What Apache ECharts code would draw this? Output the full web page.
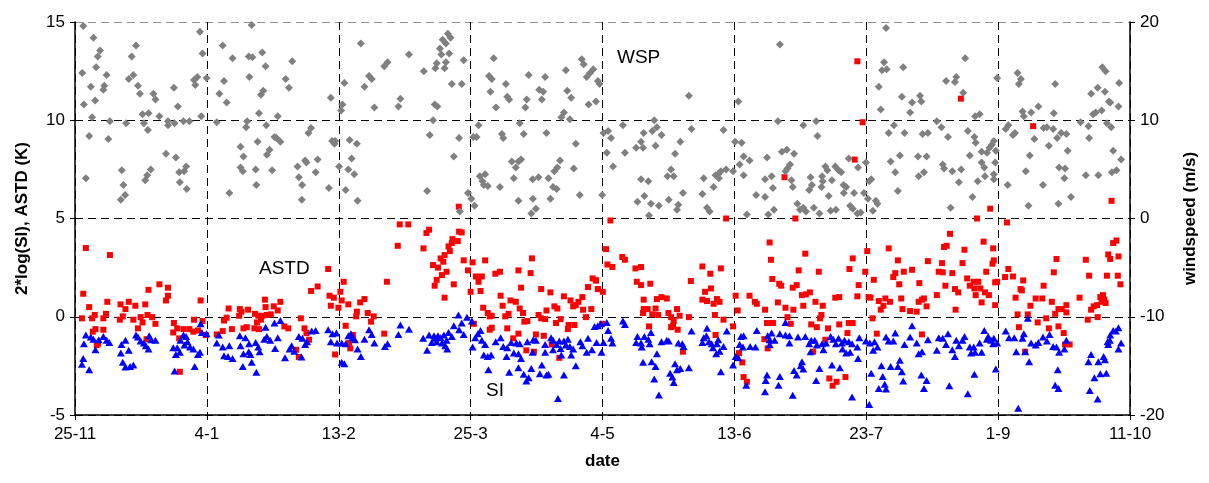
<!DOCTYPE html>
<html><head><meta charset="utf-8">
<script src="https://cdn.jsdelivr.net/npm/echarts@6/dist/echarts.min.js"></script>
<style>html,body{margin:0;padding:0;background:#fff}#c{width:1209px;height:483px}</style>
</head><body><div id="c"></div>
<script>
// x values are days since 25-11
const tickLabels = ["25-11","4-1","13-2","25-3","4-5","13-6","23-7","1-9","11-10"];
const leftTicks = [-5, 0, 5, 10, 15];
const rightTicks = [-20, -10, 0, 10, 20];

// windspeed (m/s), right axis
const wspData = [
[2.5,19.6],[5.6,18.4],[7.6,17.1],[6.9,16.5],[6.4,15.4],[2.2,14.8],[9.6,14.6],[4.8,13.4],[8.9,13.5],[8.6,13.1],[6.1,12.0],[2.7,11.6],[5.2,10.3],[4.3,8.4],[3.3,4.1],[10.6,9.9],[10.1,8.1],[14.2,4.9],[14.7,3.4],[15.2,2.4],[13.9,1.9],[15.5,9.7],[18.5,17.6],[17.2,16.5],[17.7,14.6],[16.3,14.2],[19.1,13.5],[19.7,12.7],[20.5,10.6],[22.3,10.7],[20.9,9.7],[22.1,9.0],[23.8,12.7],[24.4,12.1],[25.6,10.4],[23.0,5.0],[21.9,4.4],[21.3,3.9],[27.6,6.6],[30.6,6.2],[28.2,9.9],[28.2,9.5],[30.2,9.7],[32.9,9.9],[34.7,9.9],[30.0,13.3],[31.2,11.4],[33.7,5.3],[33.1,4.8],[31.6,4.7],[31.8,3.7],[33.9,3.0],[37.9,19.0],[38.7,16.8],[39.9,14.3],[37.1,14.4],[36.1,14.1],[36.5,13.6],[38.3,10.4],[43.0,9.8],[44.8,17.6],[47.8,16.3],[45.2,14.0],[43.8,12.7],[46.0,11.8],[50.2,7.3],[51.1,6.3],[50.2,5.2],[50.9,4.8],[46.8,2.6],[51.9,9.3],[52.7,16.5],[52.9,14.4],
[53.6,19.7],[56.8,16.9],[53.8,16.4],[57.8,15.5],[65.9,16.0],[63.9,14.2],[64.9,13.3],[57.1,13.0],[56.4,12.6],[55.8,10.7],[61.5,10.4],[52.2,9.9],[58.0,9.5],[71.6,9.2],[70.8,8.7],[55.4,7.8],[60.5,8.3],[61.1,8.2],[62.3,7.8],[59.0,7.0],[58.2,6.5],[54.8,5.0],[59.8,4.9],[55.0,3.4],[69.8,5.9],[70.2,5.7],[73.6,6.0],[67.5,5.3],[67.9,4.2],[68.9,3.4],[73.0,4.7],[68.8,1.9],[77.0,3.1],[77.6,12.3],[78.0,7.9],[78.9,7.9],[78.7,7.6],[80.1,5.3],[82.1,2.9],[85.7,1.8],[82.9,5.0],[84.7,4.5],[83.9,6.1],[83.3,8.0],[85.5,7.6],[81.1,11.6],[80.7,11.0],[81.7,13.8],[86.7,17.8],[87.8,13.4],[89.2,14.5],[90.0,14.2],[90.8,11.3],[93.8,15.5],[94.8,15.9],[101.3,16.7],[98.7,12.2],[98.1,11.4],[105.8,15.0],
[113.1,18.8],[113.9,18.4],[111.5,18.2],[112.5,17.8],[110.7,17.3],[113.5,16.8],[111.1,16.7],[109.7,15.8],[112.5,15.9],[109.3,15.3],[112.1,15.3],[117.9,16.1],[114.3,13.7],[117.3,13.7],[109.1,11.6],[109.9,11.4],[108.6,10.0],[107.6,8.5],[116.5,8.2],[114.9,6.3],[106.8,2.8],[116.7,0.7],[119.2,2.6],[120.2,2.0],[121.2,1.3],[120.8,8.3],[121.8,8.3],[122.4,9.5],[127.0,16.3],[125.6,14.5],[126.4,14.2],[126.0,12.9],[127.7,11.3],[130.7,13.7],[131.1,12.4],[131.7,12.1],[129.5,8.6],[129.9,8.2],[134.9,9.7],[136.1,8.6],[132.5,5.8],[133.7,5.2],[135.3,6.0],[134.5,5.8],[122.8,4.3],[123.6,3.8],[124.4,4.5],[124.0,3.4],[125.2,3.3],[128.9,3.2],[133.1,4.1],[137.6,14.6],[137.0,12.1],[136.6,11.3],[140.8,13.1],[142.0,12.9],[141.6,12.1],[142.6,14.4],[143.0,8.7],[134.5,1.8],[138.9,2.0],[139.8,1.0],[138.4,0.5],[138.8,4.0],[140.6,4.2],[143.6,4.1],[144.2,2.0],[145.0,3.2],[146.1,3.0],[145.4,4.8],[146.3,5.2],[147.1,5.9],[151.3,5.1],[153.1,2.4],[148.9,15.1],[149.3,13.0],[150.5,12.3],[148.3,10.8],[147.5,10.3],[150.1,10.1],[151.9,7.6],[153.7,16.2],[154.3,15.7],[155.2,14.4],[156.2,14.8],[157.2,15.2],[158.6,14.0],[155.8,11.6],[158.0,11.9],
[159.1,13.7],[186.2,12.5],[201.2,11.9],[166.2,9.5],[175.7,10.0],[176.5,9.3],[175.1,8.9],[187.0,9.1],[196.7,9.0],[160.3,8.7],[161.7,8.9],[162.6,8.2],[172.5,8.7],[177.9,8.5],[161.3,6.7],[166.8,6.7],[171.7,7.8],[170.2,7.2],[172.3,7.2],[176.1,7.4],[183.6,7.8],[182.0,6.6],[163.2,5.3],[171.7,4.0],[173.9,3.8],[180.8,5.0],[179.7,4.3],[181.6,4.3],[159.9,2.4],[172.7,2.3],[170.6,1.7],[174.7,1.5],[177.1,1.3],[180.1,1.9],[183.0,1.4],[182.6,0.9],[184.4,2.6],[174.1,0.3],[190.3,2.5],[191.7,1.1],[192.5,0.7],[190.7,4.1],[193.7,3.2],[194.3,4.4],[195.1,4.5],[195.9,4.8],[197.5,5.0],[199.6,4.8],[195.3,4.1],[200.2,7.8],[202.2,7.7],[202.8,6.3],[204.6,5.9],[201.6,5.5],[202.8,4.4],[209.9,6.2],[209.3,4.0],[211.3,4.3],[211.7,3.1],[206.6,2.4],[209.3,2.2],[203.8,0.4],[210.3,0.4],
[213.8,17.7],[246.0,19.4],[245.4,15.9],[244.8,15.1],[246.2,15.2],[251.2,15.4],[264.2,14.0],[243.8,13.4],[250.8,12.4],[256.3,12.5],[256.7,11.9],[253.9,11.8],[244.4,11.1],[253.3,10.8],[213.2,9.9],[220.9,9.5],[224.8,9.9],[225.2,8.4],[261.4,9.9],[262.8,9.3],[264.8,8.3],[246.8,8.7],[248.4,9.5],[251.6,8.7],[257.1,8.6],[258.7,8.7],[214.4,6.8],[215.9,7.0],[218.1,6.6],[215.5,4.8],[216.1,5.1],[216.9,5.5],[217.3,3.9],[217.7,3.2],[223.1,4.2],[223.5,3.4],[222.7,2.9],[226.6,4.3],[226.8,3.8],[226.4,3.2],[227.6,5.3],[228.2,4.9],[229.6,3.9],[230.6,5.3],[231.6,4.9],[232.4,4.7],[228.6,2.3],[233.1,3.4],[233.9,3.2],[233.2,2.6],[234.7,6.1],[237.5,5.2],[236.3,2.6],[239.9,5.7],[239.3,2.6],[241.5,4.0],[240.9,3.8],[240.5,2.0],[242.9,1.8],[243.4,1.5],[242.0,0.8],[247.4,5.8],[250.2,6.4],[248.8,4.7],[249.6,2.8],[255.7,6.3],[258.3,6.3],[255.9,4.3],[257.5,4.7],[263.2,5.5],[263.6,5.1],[212.0,0.9],[219.1,1.5],[219.9,0.9],[220.9,1.1],[221.7,0.7],[224.1,1.1],[225.8,0.5],[229.2,0.8],[230.8,0.9],[235.1,1.3],[235.9,1.0],[237.3,0.5],[238.3,0.6],[265.6,1.1],
[270.0,16.3],[267.3,14.4],[266.9,13.9],[279.7,14.3],[269.4,12.8],[285.9,14.8],[286.9,14.2],[286.3,13.7],[297.3,13.7],[311.6,15.4],[312.6,15.0],[316.7,13.8],[308.2,12.7],[310.2,13.3],[312.4,12.9],[313.6,11.9],[316.5,11.4],[314.0,11.8],[287.4,10.9],[290.0,10.8],[292.2,11.4],[287.8,10.4],[296.9,10.7],[273.0,10.4],[274.4,10.6],[311.4,11.0],[309.6,10.8],[308.8,10.6],[305.0,9.8],[307.4,9.4],[313.0,9.7],[314.3,9.3],[283.1,9.5],[282.3,9.1],[285.1,8.7],[284.5,8.5],[293.8,9.2],[294.8,9.3],[296.7,9.1],[299.1,8.7],[300.7,8.6],[297.9,8.2],[291.0,8.1],[270.8,8.9],[272.8,8.3],[273.2,7.7],[278.7,7.9],[278.1,7.5],[277.4,7.2],[275.0,6.8],[276.6,6.7],[279.3,6.9],[271.4,6.4],[295.4,7.4],[301.1,6.9],[289.6,6.4],[307.6,8.2],[314.9,6.9],[317.3,6.0],[275.0,5.7],[275.8,5.2],[279.1,5.7],[266.1,4.8],[268.8,5.0],[278.7,4.5],[276.0,4.3],[278.7,4.0],[273.8,3.8],[268.1,3.7],[288.4,4.8],[298.5,5.2],[300.3,5.1],[300.1,4.1],[282.9,3.4],[293.6,3.4],[306.6,4.4],[310.4,4.4],[314.5,4.7],[315.9,4.9],[272.2,2.2],[289.2,1.3],[298.3,1.5],[302.1,2.2]
];

// ASTD (K), left axis
const astdData = [
[116.4,5.6],[162.4,4.9],[197.5,5.0],[237.3,13.0],[238.9,9.9],[236.5,8.0],[215.2,7.1],[218.5,5.0],[268.7,11.1],[290.6,9.7],[277.6,5.5],[314.4,5.9],[273.6,5.0],
[3.3,3.5],[10.6,3.14],[2.5,1.17],[4.3,0.49],[9.8,0.76],[2.1,-0.08],[5.2,-0.08],[6.0,0.09],[8.6,-0.08],[9.4,0.15],[6.2,-0.63],[8.6,-0.66],[5.4,-0.76],[7.0,-1.37],[13.8,0.63],[16.3,0.76],[15.3,0.39],[18.3,0.56],[14.5,0.02],[13.6,-0.15],[17.7,-0.15],[21.3,0.63],[22.3,1.37],[25.6,1.65],[28.2,1.48],[28.2,1.07],[27.6,0.83],[19.9,-0.02],[22.0,0.09],[23.4,-0.02],[20.5,-0.29],[24.4,-0.36],[19.1,-0.59],[38.1,0.83],[30.0,-0.32],[36.1,-0.15],[38.7,-0.22],[29.8,-0.80],[31.0,-0.59],[32.9,-0.63],[34.7,-0.63],[35.9,-0.76],[37.3,-0.70],[31.6,-1.10],[31.8,-2.80],[39.7,-0.93],[43.0,-0.90],[44.8,-0.73],[45.2,-0.19],[46.6,0.42],[46.0,-0.05],[47.6,-0.63],[50.0,0.39],[50.5,0.26],[49.8,0.05],[52.5,0.36],[51.1,-0.59],[52.1,-0.53],[21.7,-1.14],[6.6,-1.44],
[98.5,4.70],[101.1,4.70],[97.9,3.61],[105.7,3.48],[76.8,2.43],[81.5,1.78],[94.6,1.78],[73.6,1.54],[71.6,1.31],[80.5,1.27],[77.2,1.07],[78.5,0.97],[80.9,0.83],[82.9,0.63],[77.6,0.56],[79.9,0.46],[86.5,0.73],[87.8,0.90],[85.5,0.26],[85.3,0.02],[88.8,0.19],[90.6,0.02],[89.8,-0.25],[57.6,0.87],[57.8,0.49],[62.3,0.76],[60.3,0.53],[61.5,0.32],[54.6,0.15],[55.6,0.05],[56.8,0.05],[58.2,0.09],[59.4,0.12],[56.4,-0.15],[55.2,-0.29],[54.4,-0.59],[55.8,-0.63],[68.5,-0.08],[63.5,-0.49],[64.7,-0.59],[69.6,-0.59],[70.2,-0.83],[71.0,-1.17],[67.1,-1.68],[67.9,-2.05],[82.1,-0.46],[84.3,-0.93],[83.5,-1.61],[78.9,-1.92],[93.8,-0.86],[83.1,-1.34],
[106.6,4.26],[107.4,4.43],[116.5,4.33],[117.3,4.29],[114.5,3.95],[114.3,3.75],[116.1,3.85],[113.3,3.58],[113.7,3.34],[110.9,2.97],[112.1,3.14],[111.7,2.80],[108.6,2.63],[110.1,2.50],[112.7,2.29],[111.3,2.12],[109.7,1.88],[109.1,1.58],[114.9,1.65],[112.1,0.97],[117.9,2.87],[120.6,2.77],[124.4,2.87],[119.2,2.36],[121.6,2.05],[123.4,2.05],[122.4,1.78],[123.0,1.31],[120.0,1.27],[127.5,2.19],[128.9,2.29],[134.5,2.36],[138.6,2.97],[138.2,2.22],[135.3,1.48],[129.1,1.07],[132.1,0.83],[133.7,0.76],[129.7,0.56],[123.8,0.46],[125.2,0.19],[125.8,0.02],[126.4,0.05],[131.5,0.15],[130.5,0.02],[134.9,0.42],[135.9,0.19],[137.2,-0.22],[136.3,-0.25],[121.0,-0.36],[126.4,-0.56],[125.8,-0.66],[131.1,-0.59],[134.5,-0.86],[132.9,-1.10],[141.4,1.41],[144.2,1.24],[148.3,1.04],[150.3,0.83],[151.9,0.59],[151.1,0.53],[152.7,0.76],[153.9,1.00],[154.1,0.36],[155.6,1.51],[157.0,1.95],[158.0,1.85],[158.6,1.41],[156.6,0.39],[155.0,-0.02],[143.0,0.32],[145.4,0.53],[146.3,0.42],[140.6,0.09],[141.4,-0.08],[142.6,-0.12],[147.3,-0.12],[145.9,-0.32],[149.7,-0.42],[149.5,-0.63],[151.5,-0.42],[139.8,-0.90],[142.2,-0.97],[144.6,-1.41],[146.9,-2.09],[136.9,-1.71],[139.2,-1.78],
[161.1,3.44],[161.5,2.66],[163.0,2.53],[166.0,3.04],[166.8,2.90],[170.0,2.46],[171.7,2.53],[160.1,1.27],[170.4,1.78],[171.7,1.61],[174.5,1.68],[172.5,0.87],[176.5,0.90],[177.9,1.00],[179.5,0.93],[172.5,0.39],[173.7,0.39],[172.3,0.19],[176.1,0.42],[175.1,0.12],[176.9,0.09],[180.0,0.19],[180.8,-0.02],[182.6,0.39],[183.4,0.05],[186.2,-0.02],[181.6,-0.22],[181.4,-0.46],[180.8,-0.53],[182.8,-0.66],[174.1,-0.49],[186.8,1.82],[190.3,2.56],[192.7,2.19],[195.9,2.46],[191.1,1.27],[192.9,1.44],[190.3,0.87],[191.7,0.80],[193.7,0.66],[194.7,0.90],[195.5,0.76],[194.1,0.09],[196.7,-0.15],[199.6,-0.49],[194.3,-0.93],[184.4,-1.78],[159.9,-0.36],[210.7,3.78],[211.1,2.90],[211.5,1.92],[200.4,1.07],[204.6,1.07],[206.2,0.76],[206.8,0.66],[209.3,0.36],[201.0,0.32],[209.9,-0.32],[211.7,-0.32],[201.4,-1.85],[202.4,-2.32],[202.8,-3.07],[203.8,-3.31],[209.1,-1.14],[210.1,-1.61],[158.0,1.85],[158.6,1.41],
[221.5,3.21],[219.5,2.36],[225.6,2.29],[235.9,2.97],[234.9,2.43],[240.3,3.34],[239.7,2.29],[242.3,1.88],[213.6,1.68],[214.2,1.58],[217.7,1.48],[218.9,1.61],[220.5,1.10],[221.7,1.14],[222.9,1.24],[224.6,0.76],[226.8,0.56],[230.6,0.97],[231.8,1.00],[237.7,1.61],[237.3,1.04],[240.7,1.00],[241.3,0.97],[213.2,0.73],[215.5,0.46],[217.9,0.36],[220.9,0.56],[226.4,0.09],[226.0,-0.08],[216.1,-0.02],[217.1,-0.36],[223.3,-0.39],[225.0,-0.53],[228.4,-0.59],[231.8,-0.39],[234.7,-0.32],[235.9,-0.32],[234.3,-0.83],[241.9,-0.08],[243.2,-0.86],[227.6,-1.17],[223.9,-1.78],[228.8,-3.14],[231.0,-3.31],[229.8,-3.51],[233.7,-3.07],[246.8,3.48],[249.6,2.87],[248.8,2.22],[248.2,2.02],[251.4,2.29],[253.9,2.39],[250.0,1.65],[256.1,1.71],[258.7,2.83],[262.0,2.29],[263.0,2.73],[264.0,1.58],[261.4,1.10],[265.4,4.22],[263.6,3.55],[264.4,3.61],[263.2,2.26],[243.8,0.80],[245.8,0.93],[247.2,0.76],[245.2,0.56],[244.4,0.36],[250.6,0.93],[255.9,0.76],[256.9,0.87],[257.5,0.93],[258.3,0.53],[251.0,0.39],[253.3,0.29],[255.3,0.26],[256.9,-0.90],
[282.7,4.80],[269.8,3.41],[275.6,3.82],[278.5,3.48],[278.7,2.87],[278.3,2.70],[269.2,2.73],[266.1,2.22],[276.4,2.29],[283.1,2.43],[284.5,2.05],[282.1,2.02],[287.6,1.85],[270.6,1.95],[272.6,1.78],[274.0,1.78],[271.4,1.58],[272.8,1.44],[274.6,1.44],[279.1,1.75],[279.7,1.78],[266.9,1.41],[267.9,1.24],[276.0,1.24],[277.2,1.10],[273.2,1.10],[286.8,1.41],[287.2,1.34],[293.8,1.58],[275.0,0.73],[279.1,0.59],[267.1,0.36],[285.3,0.97],[291.4,0.93],[293.4,0.93],[296.3,0.76],[289.8,0.56],[285.9,0.12],[289.0,0.12],[292.0,-0.29],[294.6,-0.08],[297.3,0.15],[298.3,0.39],[299.3,0.39],[300.7,0.22],[300.7,0.59],[295.4,-0.59],[298.3,-0.49],[299.9,-0.83],[301.7,-1.41],[300.3,-1.41],[286.3,-0.53],[288.2,-1.78],[297.7,2.94],[296.9,2.26],[306.6,2.90],[307.6,2.09],[304.7,0.97],[313.0,2.09],[316.3,2.09],[317.1,1.65],[313.4,3.17],[314.0,2.94],[316.5,3.07],[314.9,3.75],[315.9,3.88],[311.8,1.10],[311.0,1.00],[312.2,0.87],[311.4,0.76],[310.0,0.59],[309.0,0.53],[312.6,0.70],[308.2,0.36],[310.2,-0.02],[307.2,-0.15]
];

// 2*log(SI), left axis
const siData = [
[3.3,-0.93],[4.8,-1.03],[2.7,-1.37],[5.6,-1.14],[7.2,-1.17],[8.6,-1.00],[9.6,-1.20],[10.4,-1.31],[6.2,-1.68],[2.5,-2.12],[2.1,-2.42],[4.3,-2.70],[15.3,-1.20],[14.1,-1.41],[13.9,-1.85],[16.3,-1.71],[14.5,-2.32],[15.3,-2.56],[16.7,-2.53],[17.7,-2.46],[18.5,-0.93],[19.1,-1.03],[19.9,-1.24],[20.9,-1.34],[22.5,-0.97],[23.1,-1.17],[24.4,-1.20],[21.5,-1.47],[22.3,-1.64],[32.9,-0.93],[33.7,-1.00],[32.0,-1.20],[34.1,-1.27],[29.8,-1.58],[31.0,-1.58],[33.2,-1.44],[34.9,-1.54],[35.9,-1.64],[30.6,-1.92],[31.8,-1.81],[37.3,-1.92],[37.9,-1.81],[36.3,-2.53],[30.2,-2.76],[38.1,-0.36],[38.5,-0.80],[39.9,-0.86],[43.6,-0.93],[43.0,-1.34],[44.8,-1.54],[46.8,-1.47],[45.2,-1.98],[46.4,-2.02],[47.8,-2.12],[50.0,-0.97],[51.7,-1.07],[50.2,-1.47],[51.1,-1.88],[50.9,-2.53],[52.7,-1.78],
[57.8,-0.53],[60.5,-0.32],[62.3,-0.19],[52.8,-1.37],[53.2,-1.92],[53.6,-2.32],[54.8,-1.31],[55.6,-1.54],[56.0,-1.78],[55.0,-2.83],[57.4,-1.14],[58.2,-1.00],[59.2,-1.20],[60.7,-1.61],[61.5,-1.07],[63.7,-2.09],[65.1,-1.64],[65.7,-1.47],[67.9,-1.00],[69.0,-1.10],[69.8,-1.41],[70.4,-1.27],[66.5,-1.75],[68.7,-2.05],[71.8,-0.73],[73.0,-0.70],[76.8,-0.66],[78.1,-0.86],[79.3,-0.83],[77.6,-1.27],[79.5,-1.34],[80.9,-1.34],[82.1,-1.37],[82.9,-0.97],[83.7,-0.86],[84.1,-1.07],[84.9,-1.17],[85.7,-1.64],[86.7,-2.02],[80.9,-2.32],[81.7,-2.39],[87.8,-1.14],[89.2,-0.66],[90.0,-0.90],[90.8,-1.34],[94.0,-1.51],[94.8,-1.37],[98.1,-0.90],[98.7,-0.42],[101.3,-0.63],[105.6,-1.10],
[107.4,-0.93],[108.9,-0.97],[110.1,-0.97],[110.9,-1.07],[111.9,-0.93],[113.3,-0.80],[114.3,-1.00],[108.2,-1.31],[109.7,-1.27],[111.3,-1.34],[112.7,-1.20],[112.3,-1.47],[112.9,-1.64],[106.8,-1.71],[109.1,-1.10],[114.9,-0.46],[116.3,0.09],[117.3,-0.32],[116.5,-0.66],[117.9,-0.90],[118.9,-0.02],[120.4,-0.22],[123.0,-0.70],[122.2,-0.86],[121.4,-1.07],[120.6,-1.54],[123.4,-1.20],[124.4,-1.41],[124.0,-1.95],[125.2,-2.02],[126.2,-1.95],[125.4,-2.70],[127.6,-1.27],[129.1,-1.07],[129.9,-1.51],[131.1,-1.58],[130.9,-2.02],[132.3,-1.31],[133.9,-1.34],[134.9,-1.37],[133.1,-1.85],[134.5,-1.88],[135.3,-2.12],[131.7,-2.83],[134.5,-2.59],[136.1,-2.93],[136.9,-3.27],[137.6,-3.10],[138.4,-2.63],[137.2,-1.27],[139.0,-1.17],[139.8,-1.20],[138.8,-1.81],[141.0,-2.90],[141.6,-2.46],[142.6,-1.81],[142.6,-1.41],[144.4,-1.07],[145.0,-1.20],[143.6,-2.93],[143.0,-2.97],[145.0,-1.68],[146.9,-1.24],[146.1,-1.41],[147.3,-1.61],[148.3,-1.24],[149.5,-1.14],[148.9,-1.44],[150.1,-1.51],[151.1,-1.64],[150.5,-1.95],[147.5,-1.95],[148.3,-2.97],[151.9,-2.49],[146.5,-4.16],[153.3,-1.27],[153.9,-1.47],[155.6,-1.10],[155.2,-1.81],[156.8,-1.68],[158.2,-1.31],[157.6,-0.49],[158.6,-0.46],
[159.5,-0.36],[161.3,-0.29],[161.7,-0.70],[166.2,-0.22],[166.8,-0.39],[162.6,-1.10],[163.0,-1.34],[160.3,-1.31],[159.7,-1.81],[170.6,-1.00],[170.2,-1.31],[172.7,-1.00],[171.7,-1.34],[171.9,-1.54],[173.9,-1.14],[174.3,-1.37],[174.7,-0.80],[177.9,-1.27],[179.5,-1.20],[180.1,-1.24],[176.5,-1.88],[172.3,-2.32],[174.9,-2.29],[176.1,-2.53],[182.0,-2.39],[182.6,-2.70],[183.6,-2.63],[180.5,-2.87],[181.2,-3.07],[181.6,-3.34],[175.7,-3.17],[177.1,-3.98],[183.0,-1.34],[184.2,-1.37],[184.6,-1.51],[186.2,-2.59],[187.0,-0.73],[190.7,-1.07],[190.3,-1.31],[191.7,-0.59],[191.5,-0.97],[192.3,-1.27],[193.1,-1.37],[193.5,-1.58],[194.7,-1.37],[195.1,-1.17],[194.5,-1.88],[195.5,-1.75],[196.7,-1.51],[197.7,-0.73],[195.9,-2.80],[199.6,-2.46],[200.4,-2.02],[201.2,-2.09],[202.0,-1.00],[202.8,-0.97],[201.6,-1.41],[202.6,-1.54],[204.8,-1.51],[206.4,-1.54],[206.8,-0.70],[203.6,-3.48],[210.1,-0.97],[210.7,-1.17],[211.3,-0.83],[210.7,-1.41],[209.9,-2.97],[209.5,-3.24],[209.3,-3.82],
[215.5,-0.29],[213.8,-0.86],[215.5,-0.93],[216.7,-0.97],[212.2,-1.20],[216.7,-1.34],[219.3,-1.03],[221.5,-1.00],[223.3,-1.20],[224.4,-1.20],[222.7,-1.37],[225.0,-1.44],[226.6,-1.37],[227.8,-1.34],[229.2,-1.00],[230.0,-1.14],[231.6,-1.10],[227.0,-1.68],[223.1,-1.78],[230.8,-1.37],[232.6,-1.34],[233.4,-1.20],[234.7,-1.27],[235.7,-1.37],[232.8,-1.64],[233.9,-1.85],[235.1,-1.81],[237.3,-1.54],[237.5,-2.12],[237.9,-1.07],[239.9,-1.24],[241.1,-1.34],[242.5,-1.27],[242.1,-1.71],[243.4,-1.54],[220.5,-2.29],[220.1,-2.49],[220.9,-2.66],[218.1,-2.73],[218.9,-2.97],[213.8,-3.04],[213.4,-3.48],[217.7,-3.99],[225.8,-2.63],[229.6,-2.46],[232.0,-2.59],[224.8,-3.24],[235.7,-4.09],[240.9,-4.46],[241.5,-2.87],[244.6,-2.49],[245.0,-3.04],[245.6,-3.44],[243.8,-3.65],[246.0,-3.68],[247.4,-2.53],[249.6,-2.53],[250.2,-2.22],[250.8,-2.80],[251.2,-3.27],[246.0,-1.03],[246.8,-1.24],[248.2,-1.24],[248.8,-0.83],[251.6,-1.41],[253.3,-1.03],[253.9,-0.46],[255.3,-1.34],[255.9,-1.88],[256.9,-1.78],[258.7,-1.17],[261.4,-1.71],[262.0,-1.07],[263.2,-1.10],[264.2,-1.41],[264.8,-0.86],[256.7,-2.97],[258.3,-3.24],[257.5,-3.65],[265.2,-3.51],
[266.1,-1.68],[266.9,-2.02],[267.3,-1.20],[268.1,-1.47],[269.8,-1.00],[269.2,-1.20],[271.4,-1.54],[272.6,-1.54],[271.8,-1.85],[273.0,-1.81],[274.4,-1.34],[275.0,-1.81],[275.8,-0.70],[276.6,-1.14],[277.0,-1.00],[277.9,-1.20],[278.7,-1.10],[278.5,-1.37],[279.7,-1.34],[282.3,-0.73],[283.3,-1.07],[284.9,-1.07],[287.8,-0.86],[287.4,-1.10],[289.0,-0.08],[290.0,-1.34],[291.4,-1.44],[292.2,-1.31],[293.6,-1.03],[294.8,-1.24],[295.6,-0.90],[296.7,-1.51],[297.7,-1.54],[298.5,-1.81],[300.1,-1.64],[300.7,-1.20],[285.5,-1.78],[288.2,-1.78],[289.4,-2.29],[270.8,-3.92],[272.8,-2.93],[279.3,-2.66],[286.1,-4.66],[298.1,-2.70],[297.3,-3.48],[298.3,-3.65],[307.4,-2.29],[308.2,-1.92],[310.4,-2.29],[312.0,-2.02],[312.4,-2.19],[311.0,-2.90],[312.8,-2.87],[309.2,-3.10],[307.8,-3.75],[310.2,-4.19],[313.4,-1.41],[313.9,-1.20],[314.0,-0.93],[314.9,-0.70],[315.7,-0.73],[316.5,-0.56],[317.3,-1.34],[316.5,-1.64],[313.2,-1.27]
];

const FONT = "'Liberation Sans', Arial, sans-serif";
const chart = echarts.init(document.getElementById('c'), null, {renderer: 'canvas'});
const dash = [8, 5];
chart.setOption({
  animation: false,
  backgroundColor: '#fff',
  textStyle: {fontFamily: FONT},
  grid: {left: 75, right: 79, top: 22, bottom: 68, containLabel: false},
  xAxis: {
    type: 'value', min: 0, max: 320, interval: 40,
    name: 'date', nameLocation: 'middle', nameGap: 38,
    nameTextStyle: {fontFamily: FONT, fontWeight: 'bold', fontSize: 17, color: '#000'},
    axisLine: {onZero: false, lineStyle: {color: '#000', width: 1.5}},
    axisTick: {show: true, length: 5, lineStyle: {color: '#000'}},
    axisLabel: {fontFamily: FONT, fontSize: 17, color: '#000', margin: 11,
      formatter: v => tickLabels[Math.round(v / 40)]},
    splitLine: {show: true, lineStyle: {color: '#000', type: dash, width: 1}}
  },
  yAxis: [{
    type: 'value', min: leftTicks[0], max: leftTicks[leftTicks.length - 1], interval: 5,
    name: '2*log(SI), ASTD (K)', nameLocation: 'middle', nameGap: 44, nameRotate: 90,
    nameTextStyle: {fontFamily: FONT, fontWeight: 'bold', fontSize: 17, color: '#000'},
    axisLine: {show: true, onZero: false, lineStyle: {color: '#000', width: 1.5}},
    axisTick: {show: true, length: 5, lineStyle: {color: '#000'}},
    axisLabel: {fontFamily: FONT, fontSize: 17, color: '#000', margin: 10},
    splitLine: {show: true, lineStyle: {color: ['#000', '#000', '#000', '#000', '#909090'], type: dash, width: 1}}
  }, {
    type: 'value', min: rightTicks[0], max: rightTicks[rightTicks.length - 1], interval: 10,
    position: 'right',
    name: 'windspeed (m/s)', nameLocation: 'middle', nameGap: 52, nameRotate: 90,
    nameTextStyle: {fontFamily: FONT, fontWeight: 'bold', fontSize: 17, color: '#000'},
    axisLine: {show: true, onZero: false, lineStyle: {color: '#000', width: 1.5}},
    axisTick: {show: true, length: 5, lineStyle: {color: '#000'}},
    axisLabel: {fontFamily: FONT, fontSize: 17, color: '#000', margin: 10},
    splitLine: {show: false}
  }],
  series: [{
    name: 'ASTD', type: 'scatter', yAxisIndex: 0, data: astdData,
    symbol: 'rect', symbolSize: 6, itemStyle: {color: '#FF0000', opacity: 1}
  }, {
    name: 'SI', type: 'scatter', yAxisIndex: 0, data: siData,
    symbol: 'triangle', symbolSize: [8, 7], itemStyle: {color: '#0000FF', opacity: 1}
  }, {
    name: 'WSP', type: 'scatter', yAxisIndex: 1, data: wspData,
    symbol: 'diamond', symbolSize: 8, itemStyle: {color: '#808080', opacity: 1}
  }],
  graphic: [
    {type: 'text', left: 617, top: 48, style: {text: 'WSP', fontFamily: FONT, fontSize: 19, fill: '#000'}},
    {type: 'text', left: 259, top: 259, style: {text: 'ASTD', fontFamily: FONT, fontSize: 19, fill: '#000'}},
    {type: 'text', left: 486, top: 381, style: {text: 'SI', fontFamily: FONT, fontSize: 19, fill: '#000'}}
  ]
});
</script>
</body></html>
